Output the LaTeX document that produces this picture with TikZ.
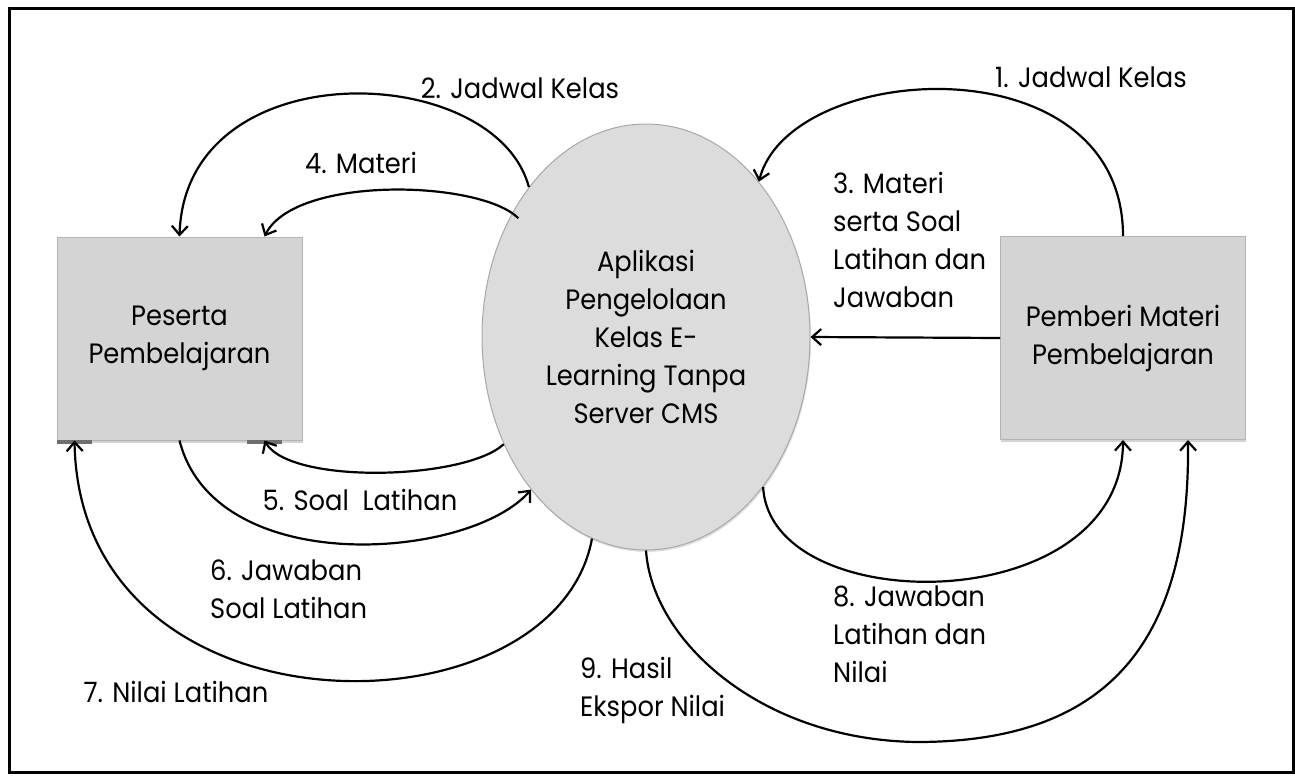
\documentclass[tikz,border=0pt]{standalone}
\usepackage{fontspec}
\setmainfont[FakeStretch=0.92]{Poppins}
\usetikzlibrary{arrows.meta,shapes.geometric,shadows}

\definecolor{boxfill}{HTML}{D4D4D4}
\definecolor{boxedge}{HTML}{B4B4B4}
\definecolor{procfill}{HTML}{DCDCDC}
\definecolor{procedge}{HTML}{A8A8A8}
\definecolor{tabbar}{HTML}{6E6E6E}

\begin{document}
\begin{tikzpicture}[x=1pt,y=-1pt,
  every node/.style={font=\fontsize{28}{38}\selectfont, inner sep=0pt, text=black},
  entity/.style={draw=boxedge, fill=boxfill, line width=1pt,
    minimum width=245pt, minimum height=203pt, align=center,
    drop shadow={shadow xshift=0.5pt, shadow yshift=-2.5pt, opacity=0.35}},
  process/.style={ellipse, draw=procedge, fill=procfill, line width=1pt,
    minimum width=328pt, minimum height=426pt, align=center,
    drop shadow={shadow xshift=1pt, shadow yshift=-2pt, opacity=0.25}},
  flow/.style={line width=2.2pt, -{Straight Barb[length=9pt,width=16pt]}},
  lbl/.style={align=left, anchor=west},
  tag/.style={align=center}
]
% page and outer frame
\useasboundingbox (0,0) rectangle (1295,776);
\draw[line width=3pt] (9,9) rectangle (1293,772);

% entities and the process
\node[entity] (ps) at (179.5,338.5) {Peserta\\Pembelajaran};
\node[entity] (pm) at (1123,338) {Pemberi Materi\\Pembelajaran};
\node[process] (app) at (646,337) {Aplikasi\\Pengelolaan\\Kelas E-\\Learning Tanpa\\Server CMS};

% small dark tabs under the learner box
\fill[tabbar] (57,440) rectangle (92,443.5);
\fill[tabbar] (247,440) rectangle (282,443.5);

% data flows
\draw[flow] (pm.north) .. controls (1123,40) and (790,60) .. (app.54);
\draw[flow] (app.128) .. controls (495,60) and (185,50) .. (ps.north);
\draw[flow] (pm.west) -- (app.east);
\draw[flow] ([xshift=9pt]app.139) .. controls (480,180) and (295,175) .. ([xshift=85pt]ps.north);
\draw[flow] (app.217) .. controls (465,480) and (290,485) .. ([xshift=85pt]ps.south);
\draw[flow] (ps.south) .. controls (215,580) and (470,560) .. (app.233);
\draw[flow] (app.255) .. controls (555,740) and (80,745) .. ([xshift=18pt]ps.south west);
\draw[flow] (app.308) .. controls (770,620) and (1122,620) .. (pm.south);
\coordinate (low9) at (917,742);
\draw[flow] (app.south) .. controls (652,640) and (760,740) .. (low9)
  .. controls (1110,742) and (1190,640) .. ([xshift=-58pt]pm.south east);

% flow labels
\node[tag] (l1) at (1091,77) {1. Jadwal Kelas};
\node[tag] (l2) at (520,88) {2. Jadwal Kelas};
\node[lbl] (l3) at (833,240) {3. Materi\\serta Soal\\Latihan dan\\Jawaban};
\node[tag] (l4) at (361,163) {4. Materi};
\node[tag] (l5) at (360,500) {5. Soal\ \ Latihan};
\node[lbl] (l6) at (210,589) {6. Jawaban\\Soal Latihan};
\node[tag] (l7) at (176,692) {7. Nilai Latihan};
\node[lbl] (l8) at (833,634) {8. Jawaban\\Latihan dan\\Nilai};
\node[lbl] (l9) at (580,690) {9. Hasil\\Ekspor Nilai};
\end{tikzpicture}
\end{document}
